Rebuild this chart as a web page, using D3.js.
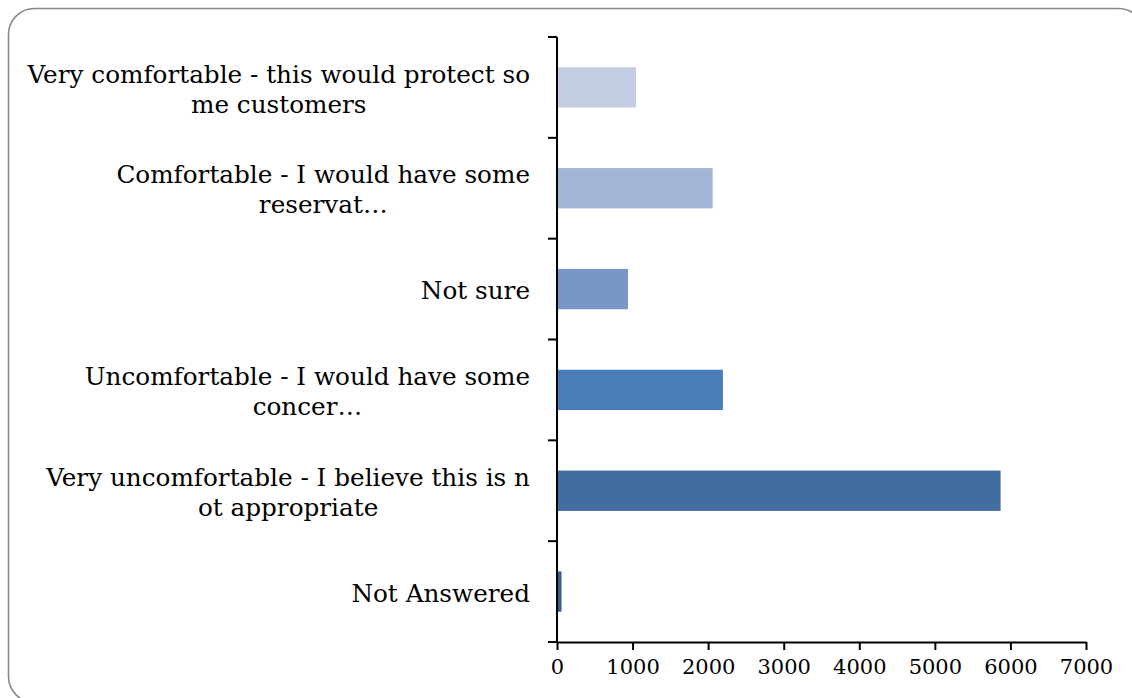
<!DOCTYPE html>
<html>
<head>
<meta charset="utf-8">
<script src="https://cdn.jsdelivr.net/npm/d3@7"></script>
<style>
  html, body { margin: 0; padding: 0; background: #fff; }
  svg { display: block; }
  text { font-family: "DejaVu Serif", "Liberation Serif", serif; fill: #000; }
</style>
</head>
<body>
<svg id="chart" width="1132" height="698"></svg>
<script>
// Survey responses (top to bottom), each label split into its wrapped lines
const categories = [
  ["Very comfortable - this would protect so", "me customers"],
  ["Comfortable - I would have some", "reservat\u2026"],
  ["Not sure"],
  ["Uncomfortable - I would have some", "concer\u2026"],
  ["Very uncomfortable - I believe this is n", "ot appropriate"],
  ["Not Answered"]
];
const values = [1045, 2060, 940, 2195, 5870, 60];
const barColors = ["#c3cee2", "#a2b5d6", "#7896c6", "#4a7cb9", "#416d9f", "#3a5f8f"];
const xTicks = [0, 1000, 2000, 3000, 4000, 5000, 6000, 7000];

const svg = d3.select("#chart");

// Rounded frame around the whole chart
svg.append("rect")
  .attr("x", 8.5).attr("y", 8.5)
  .attr("width", 1136).attr("height", 694)
  .attr("rx", 26).attr("ry", 26)
  .attr("fill", "#fff")
  .attr("stroke", "#888")
  .attr("stroke-width", 1.6);

const plot = { left: 557, right: 1086, top: 37, bottom: 642 };

const x = d3.scaleLinear().domain([0, 7000]).range([plot.left, plot.right]);
const y = d3.scaleBand()
  .domain(d3.range(categories.length))
  .range([plot.top, plot.bottom])
  .paddingInner(0.6)
  .paddingOuter(0.3);

// Bars
svg.append("g").selectAll("rect")
  .data(values)
  .join("rect")
  .attr("x", x(0))
  .attr("y", (d, i) => y(i))
  .attr("width", d => x(d) - x(0))
  .attr("height", y.bandwidth())
  .attr("fill", (d, i) => barColors[i]);

// Category axis: ticks sit on band boundaries, pointing outward
const boundaries = d3.range(categories.length + 1).map(i => plot.top + i * (plot.bottom - plot.top) / categories.length);
const yAxis = svg.append("g");
yAxis.append("line")
  .attr("x1", plot.left).attr("x2", plot.left)
  .attr("y1", plot.top).attr("y2", plot.bottom)
  .attr("stroke", "#000").attr("stroke-width", 2);
yAxis.selectAll("line.tick")
  .data(boundaries)
  .join("line")
  .attr("class", "tick")
  .attr("x1", plot.left - 9).attr("x2", plot.left)
  .attr("y1", d => d).attr("y2", d => d)
  .attr("stroke", "#000").attr("stroke-width", 2);

// Value axis
const xAxis = d3.axisBottom(x)
  .tickValues(xTicks)
  .tickFormat(d3.format("d"))
  .tickSize(8)
  .tickSizeOuter(0);
const gx = svg.append("g")
  .attr("transform", `translate(0,${plot.bottom})`)
  .call(xAxis);
gx.select(".domain").attr("stroke", "#000").attr("stroke-width", 2);
gx.selectAll(".tick line").attr("stroke", "#000").attr("stroke-width", 2);
gx.selectAll(".tick text")
  .attr("y", 17)
  .attr("dy", "0.71em")
  .style("font-family", '"DejaVu Serif", "Liberation Serif", serif')
  .style("font-size", "21px")
  .attr("fill", "#000");
// extend the baseline to meet the outward category tick
gx.append("line")
  .attr("x1", plot.left - 9).attr("x2", plot.left)
  .attr("y1", 0).attr("y2", 0)
  .attr("stroke", "#000").attr("stroke-width", 2);

// Category labels: block right-aligned, wrapped lines centred on each other
const labelRight = 530;
const lineGap = 30;
const labels = svg.append("g").style("font-size", "24.7px");
categories.forEach((lines, i) => {
  const cy = y(i) + y.bandwidth() / 2 + 1.5;
  const g = labels.append("g");
  const texts = lines.map((ln, k) => g.append("text")
    .attr("y", cy + (k - (lines.length - 1) / 2) * lineGap)
    .attr("dy", "0.35em")
    .text(ln));
  const maxW = d3.max(texts, t => t.node().getComputedTextLength());
  texts.forEach(t => t.attr("x", labelRight - maxW / 2).attr("text-anchor", "middle"));
});
</script>
</body>
</html>
